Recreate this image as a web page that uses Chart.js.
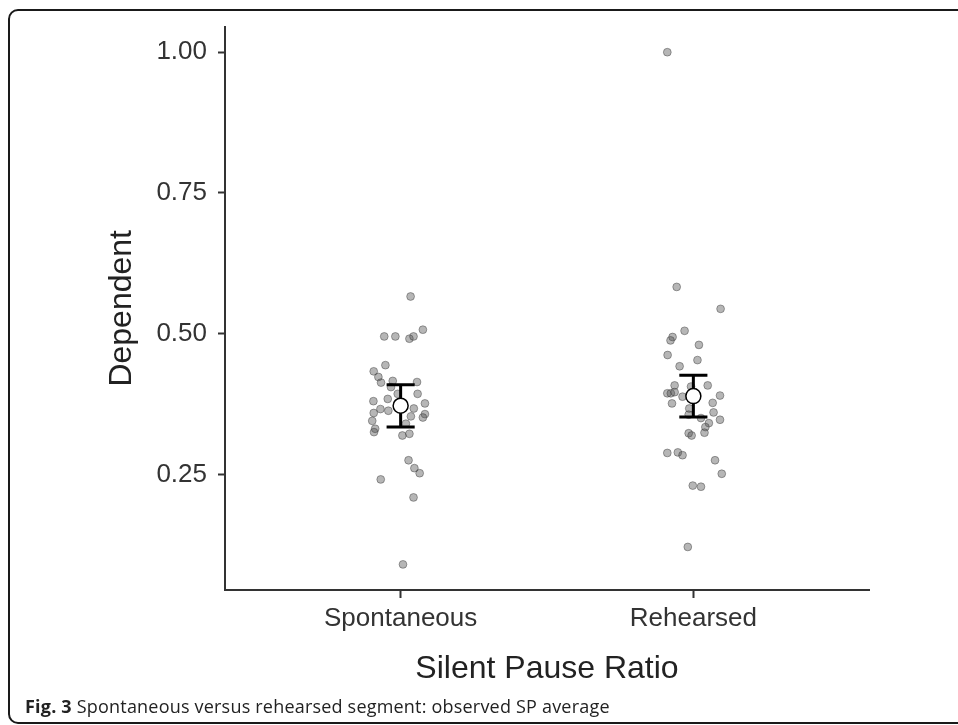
<!DOCTYPE html>
<html>
<head>
<meta charset="utf-8">
<script src="https://cdn.jsdelivr.net/npm/chart.js@4.4.0/dist/chart.umd.min.js"></script>
<style>
  html, body { margin: 0; padding: 0; background: #fff; overflow: hidden; }
  #wrap { position: relative; width: 958px; height: 725px; }
  #frame {
    position: absolute; left: 8px; top: 9px; width: 1000px; height: 715px;
    box-sizing: border-box; border: 2px solid #1a1a1a; border-radius: 10px;
  }
  #chart { position: absolute; left: 0; top: 0; }
  #caption {
    position: absolute; left: 25px; top: 695px;
    font-family: "Open Sans", sans-serif; font-size: 18px; line-height: 22px;
    color: #222; letter-spacing: 0.2px; white-space: nowrap;
  }
  #caption b { font-weight: 700; }
</style>
</head>
<body>
<div id="wrap">
  <div id="frame"></div>
  <canvas id="chart" width="958" height="725"></canvas>
  <div id="caption"><b>Fig. 3</b> Spontaneous versus rehearsed segment: observed SP average</div>
</div>
<script>
// DATA
const categories = ['Spontaneous', 'Rehearsed'];
const yTicks = [0.25, 0.50, 0.75, 1.00];

// individual segments, value + horizontal jitter
const spontValues = [0.566, 0.495, 0.495, 0.491, 0.495, 0.507, 0.444, 0.433, 0.423, 0.413,
  0.416, 0.414, 0.405, 0.393, 0.393, 0.380, 0.384, 0.376, 0.366, 0.363,
  0.359, 0.367, 0.353, 0.357, 0.351, 0.345, 0.331, 0.325, 0.340, 0.319,
  0.322, 0.275, 0.261, 0.252, 0.241, 0.209, 0.090];
const spontJitter = [0.034, -0.056, -0.018, 0.030, 0.044, 0.076, -0.052, -0.092, -0.076, -0.067,
  -0.027, 0.056, -0.033, 0.058, -0.010, -0.093, -0.044, 0.083, -0.069, -0.042,
  -0.092, 0.045, 0.035, 0.083, 0.076, -0.097, -0.087, -0.091, 0.018, 0.006,
  0.030, 0.027, 0.047, 0.065, -0.068, 0.044, 0.008];

const rehearsedValues = [1.000, 0.583, 0.544, 0.505, 0.494, 0.488, 0.480, 0.462, 0.453, 0.442,
  0.408, 0.408, 0.406, 0.394, 0.394, 0.396, 0.388, 0.390, 0.376, 0.377,
  0.367, 0.360, 0.356, 0.350, 0.347, 0.341, 0.334, 0.324, 0.323, 0.319,
  0.288, 0.289, 0.284, 0.275, 0.251, 0.230, 0.228, 0.121];
const rehearsedJitter = [-0.089, -0.057, 0.093, -0.030, -0.071, -0.078, 0.019, -0.088, 0.014, -0.047,
  -0.064, 0.049, -0.008, -0.089, -0.077, -0.064, -0.037, 0.091, -0.073, 0.066,
  -0.014, 0.069, -0.016, 0.026, 0.091, 0.053, 0.041, 0.038, -0.016, -0.006,
  -0.089, -0.053, -0.037, 0.074, 0.097, -0.002, 0.026, -0.019];

// observed averages with error bars
const means = [0.372, 0.389];
const ciLow = [0.334, 0.352];
const ciHigh = [0.409, 0.426];

// build scatter points (category position 1, 2 + jitter)
const jitterPoints = [];
spontValues.forEach((v, i) => jitterPoints.push({ x: 1 + spontJitter[i], y: v }));
rehearsedValues.forEach((v, i) => jitterPoints.push({ x: 2 + rehearsedJitter[i], y: v }));
const meanPoints = means.map((m, i) => ({ x: i + 1, y: m }));

// error bars drawn right after the jitter points, under the mean circles
const errorBars = {
  id: 'errorBars',
  afterDatasetDraw(chart, args) {
    if (args.index !== 1) return;
    const { ctx, scales: { x, y } } = chart;
    ctx.save();
    ctx.strokeStyle = '#000';
    ctx.lineWidth = 3;
    means.forEach((m, i) => {
      const cx = x.getPixelForValue(i + 1);
      const capL = x.getPixelForValue(i + 1 - 0.048);
      const capR = x.getPixelForValue(i + 1 + 0.048);
      const top = y.getPixelForValue(ciHigh[i]);
      const bot = y.getPixelForValue(ciLow[i]);
      ctx.beginPath();
      ctx.moveTo(cx, top); ctx.lineTo(cx, bot);
      ctx.moveTo(capL, top); ctx.lineTo(capR, top);
      ctx.moveTo(capL, bot); ctx.lineTo(capR, bot);
      ctx.stroke();
    });
    ctx.restore();
  }
};

const axisColor = '#333';
const tickFont = { family: 'Liberation Sans, Arial, sans-serif', size: 26 };
const titleFont = { family: 'Liberation Sans, Arial, sans-serif', size: 32 };

new Chart(document.getElementById('chart'), {
  type: 'scatter',
  data: {
    datasets: [
      {
        label: 'mean',
        data: meanPoints,
        order: 1,
        pointRadius: 7.5,
        pointBackgroundColor: '#fff',
        pointBorderColor: '#000',
        pointBorderWidth: 1.5
      },
      {
        label: 'segments',
        data: jitterPoints,
        order: 2,
        pointRadius: 3.9,
        pointBackgroundColor: 'rgba(80,80,80,0.42)',
        pointBorderColor: 'rgba(50,50,50,0.42)',
        pointBorderWidth: 1
      }
    ]
  },
  options: {
    responsive: false,
    animation: false,
    events: [],
    layout: { padding: { left: 0, right: 89, top: 26, bottom: 0 } },
    plugins: { legend: { display: false }, tooltip: { enabled: false } },
    scales: {
      x: {
        type: 'linear',
        min: 0.4,
        max: 2.6,
        afterBuildTicks: s => { s.ticks = [1, 2].map(v => ({ value: v })); },
        afterFit: s => { s.height = 135; },
        ticks: {
          autoSkip: false,
          maxRotation: 0,
          padding: 5,
          color: axisColor,
          font: tickFont,
          callback: v => categories[v - 1]
        },
        grid: { drawOnChartArea: false, drawTicks: true, tickLength: 8, tickWidth: 2, tickColor: axisColor },
        border: { display: true, color: axisColor, width: 2 },
        title: {
          display: true,
          text: 'Silent Pause Ratio',
          color: '#222',
          font: titleFont,
          padding: { top: 0, bottom: 37 }
        }
      },
      y: {
        min: 0.0445,
        max: 1.0455,
        afterBuildTicks: s => { s.ticks = yTicks.map(v => ({ value: v })); },
        afterFit: s => { s.width = 225; },
        ticks: {
          autoSkip: false,
          padding: 11,
          color: axisColor,
          font: tickFont,
          callback: v => v.toFixed(2)
        },
        grid: { drawOnChartArea: false, drawTicks: true, tickLength: 7, tickWidth: 2, tickColor: axisColor },
        border: { display: true, color: axisColor, width: 2 },
        title: {
          display: true,
          text: 'Dependent',
          color: '#222',
          font: titleFont,
          padding: { top: 103, bottom: 0 }
        }
      }
    }
  },
  plugins: [errorBars]
});
</script>
</body>
</html>
